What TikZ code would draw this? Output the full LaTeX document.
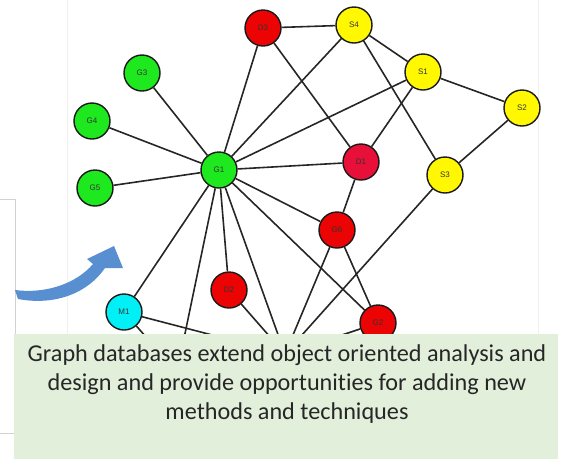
\documentclass[tikz,border=0pt]{standalone}
\usepackage{fontspec}
\usepackage{xcolor}
\usepackage{tikz}
\usetikzlibrary{shapes.geometric, arrows, positioning}
\setmainfont{Carlito}[Ligatures=NoCommon]
\newfontfamily\labelfont{Liberation Sans}

\definecolor{grn}{RGB}{30,232,30}
\definecolor{ylw}{RGB}{255,248,0}
\definecolor{rd}{RGB}{236,4,4}
\definecolor{crim}{RGB}{232,16,56}
\definecolor{cyn}{RGB}{0,240,245}
\definecolor{notegreen}{RGB}{226,239,218}
\definecolor{arrowblue}{RGB}{88,143,208}

\begin{document}
\begin{tikzpicture}[
    x=1pt, y=-1pt,
    vertex/.style={circle, draw=black!90, line width=1.4pt, minimum size=36pt, inner sep=0pt, text=black!80, font=\labelfont\fontsize{8}{8}\selectfont},
    gnode/.style={vertex, fill=grn},
    snode/.style={vertex, fill=ylw},
    dnode/.style={vertex, fill=rd},
    mnode/.style={vertex, fill=cyn},
    edge/.style={line width=1.6pt, color=black!85},
    notebox/.style={rectangle, fill=notegreen, minimum width=544pt, minimum height=125pt, inner sep=0pt},
    notetext/.style={align=center, text=black!85, font=\fontsize{24.2}{29}\selectfont}
]
\useasboundingbox (0,0) rectangle (563,459);

% Background frames
\draw[gray!12] (67,-2) rectangle (538,334);
\draw[gray!35, fill=white] (-2,199) rectangle (15,433);

% Graph nodes
\node[dnode] (D3) at (263,28) {D3};
\node[snode] (S4) at (354,25) {S4};
\node[snode] (S1) at (423,72) {S1};
\node[snode] (S2) at (522,108) {S2};
\node[gnode] (G3) at (142,73) {G3};
\node[gnode] (G4) at (92,121) {G4};
\node[gnode] (G5) at (95,188) {G5};
\node[gnode] (G1) at (219,170) {G1};
\node[vertex, fill=crim] (D1) at (361,162) {D1};
\node[snode] (S3) at (445,175) {S3};
\node[dnode] (G6) at (337,230) {G6};
\node[dnode] (D2) at (229,290) {D2};
\node[mnode] (M1) at (124,312) {M1};
\node[dnode] (G2) at (378,323) {G2};

% Hidden ends under the note
\coordinate (hub) at (285,354);
\coordinate (hubl) at (177,372);

% Edges
\draw[edge] (G1) -- (G3);
\draw[edge] (G1) -- (G4);
\draw[edge] (G1) -- (G5);
\draw[edge] (G1) -- (D3);
\draw[edge] (G1) -- (S4);
\draw[edge] (G1) -- (S1);
\draw[edge] (G1) -- (D1);
\draw[edge] (G1) -- (G6);
\draw[edge] (G1) -- (G2);
\draw[edge] (G1) -- (D2);
\draw[edge] (G1) -- (M1);
\draw[edge] (G1) -- (hub);
\draw[edge] (G1) -- (hubl);
\draw[edge] (D3) -- (S4);
\draw[edge] (D3) -- (D1);
\draw[edge] (S4) -- (S1);
\draw[edge] (S4) -- (S3);
\draw[edge] (S1) -- (S2);
\draw[edge] (S1) -- (D1);
\draw[edge] (S2) -- (S3);
\draw[edge] (D1) -- (G6);
\draw[edge] (G6) -- (G2);
\draw[edge] (G6) -- (hub);
\draw[edge] (S3) -- (hub);
\draw[edge] (D2) -- (hub);
\draw[edge] (G2) -- (hub);
\draw[edge] (M1) -- (hub);
\draw[edge] (M1) -- (hubl);

% Note
\node[notebox] (note) at (286,396) {};
\node[notetext] (notetxt) at (287,384) {Graph databases extend object oriented analysis and\\ design and provide opportunities for adding new\\ methods and techniques};

% Curved arrow
\fill[arrowblue] (15,290) .. controls (45,294) and (76,284) .. (93,264) -- (87,259) -- (114,246) -- (123,268) -- (105,268) .. controls (88,293) and (55,306) .. (18,299) -- cycle;

\end{tikzpicture}
\end{document}
